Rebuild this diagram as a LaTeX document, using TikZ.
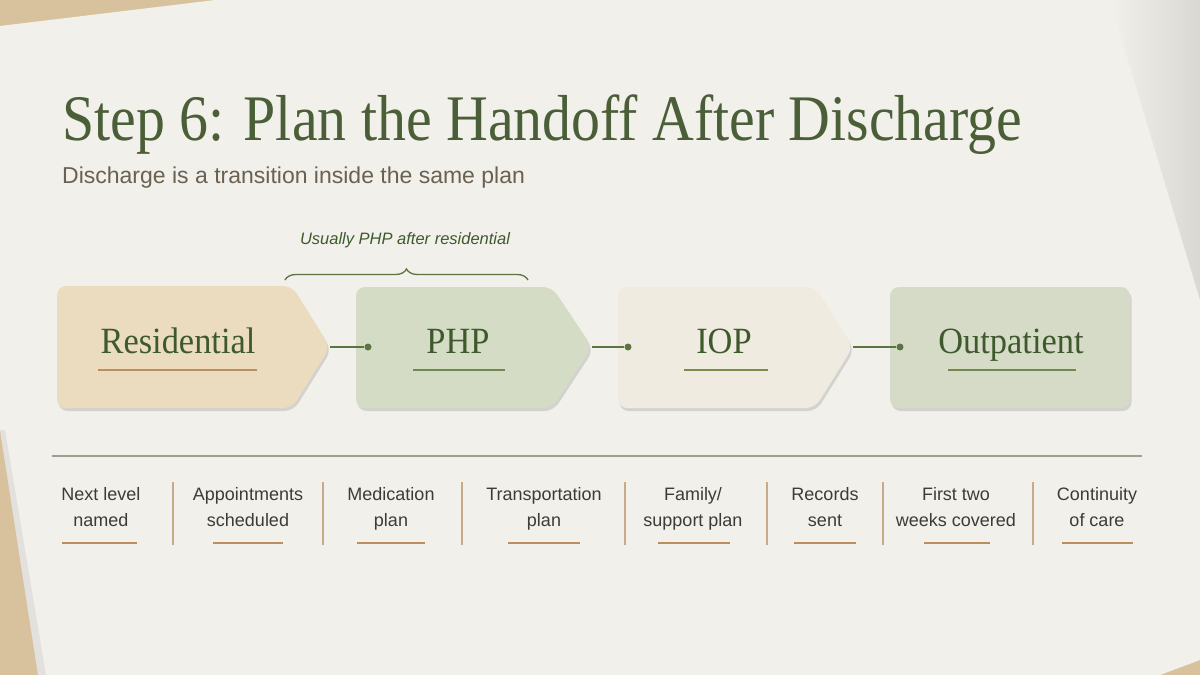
\documentclass[tikz,border=0pt]{standalone}
\usepackage{fontspec}
\setmainfont{Liberation Serif}
\setsansfont{Liberation Sans}
\usetikzlibrary{shadows,decorations.pathreplacing}
\definecolor{wood}{HTML}{D8C29E}
\definecolor{paper}{HTML}{F2F0EB}
\definecolor{titlegreen}{HTML}{4A5E38}
\definecolor{subgray}{HTML}{6A6152}
\definecolor{boxgreen}{HTML}{3E5A2C}
\definecolor{linegreen}{HTML}{5C7440}
\definecolor{resfill}{HTML}{ECDCBF}
\definecolor{phpfill}{HTML}{D5DCC6}
\definecolor{iopfill}{HTML}{F0EBE1}
\definecolor{outfill}{HTML}{D5DBC7}
\definecolor{tanline}{HTML}{BC8D5E}
\definecolor{olive}{HTML}{73884F}
\definecolor{rulegray}{HTML}{9CA08E}
\definecolor{textgray}{HTML}{3C3C34}
\definecolor{sepcol}{HTML}{C8AA88}
\begin{document}
\begin{tikzpicture}[x=1pt,y=-1pt,
  lbl/.style={font=\sffamily\fontsize{18}{26}\selectfont, text=textgray, align=center, inner sep=0pt, anchor=base},
  boxtxt/.style={font=\fontsize{37}{40}\selectfont, text=boxgreen, inner sep=0pt, anchor=base, xscale=0.93},
  sepline/.style={draw=sepcol, line width=1.1pt},
  uline/.style={line width=1.6pt},
  subul/.style={draw=tanline, line width=1.3pt},
  conn/.style={draw=linegreen, line width=1.5pt},
  dotn/.style={circle, fill=linegreen, inner sep=0pt, minimum size=7pt},
  card/.style={rounded corners=9pt, drop shadow={shadow xshift=1.5pt, shadow yshift=-3pt, opacity=0.18, fill=black!70}},
]
\useasboundingbox (0,0) rectangle (1200,675);
% background
\fill[wood] (0,0) rectangle (1200,675);
\fill[paper] (0,26) -- (215,0) -- (1200,0) -- (1200,660) -- (1160,675) -- (38,675) -- (0,430) -- cycle;
\fill[black, opacity=0.06] (0,430) -- (38,675) -- (46,675) -- (5,430) -- cycle;
\shade[left color=paper, right color=paper!90!black] (1110,0) -- (1200,0) -- (1200,300) -- cycle;

% title
\node[font=\fontsize{65}{70}\selectfont, text=titlegreen, anchor=base west, inner sep=0pt, xscale=0.89] (title) at (62,140) {Step 6: Plan the Handoff After Discharge};
\node[font=\sffamily\fontsize{23}{26}\selectfont, text=subgray, anchor=base west, inner sep=0pt] (subtitle) at (62,183) {Discharge is a transition inside the same plan};

% brace
\coordinate (brl) at (285,280);
\coordinate (brr) at (528,280);
\draw[draw=linegreen, line width=1.3pt, decorate, decoration={brace, amplitude=11pt}] (brl) -- (brr);
\node[font=\sffamily\itshape\fontsize{16.5}{20}\selectfont, text=boxgreen, anchor=base, inner sep=0pt] (bracelbl) at (405,244) {Usually PHP after residential};

% cards
\path[fill=resfill, card] (57,286) -- (292,286) -- (330,347) -- (292,408) -- (57,408) -- cycle;
\path[fill=phpfill, card] (356,287) -- (552,287) -- (592,347) -- (552,408) -- (356,408) -- cycle;
\path[fill=iopfill, card] (618,287) -- (815,287) -- (853,347) -- (815,408) -- (618,408) -- cycle;
\path[fill=outfill, card] (890,287) rectangle (1130,408);

\coordinate (restip) at (330,347);
\coordinate (phptip) at (592,347);
\coordinate (ioptip) at (853,347);
\node[dotn] (phpdot) at (368,347) {};
\node[dotn] (iopdot) at (628,347) {};
\node[dotn] (outdot) at (900,347) {};
\draw[conn] (restip) -- (phpdot);
\draw[conn] (phptip) -- (iopdot);
\draw[conn] (ioptip) -- (outdot);

\node[boxtxt] (res) at (178,353) {Residential};
\node[boxtxt] (php) at (458,353) {PHP};
\node[boxtxt] (iop) at (724,353) {IOP};
\node[boxtxt] (out) at (1011,353) {Outpatient};
\draw[uline, draw=tanline] (98,370) -- (257,370);
\draw[uline, draw=olive] (413,370) -- (505,370);
\draw[uline, draw=olive!85!tanline] (684,370) -- (768,370);
\draw[uline, draw=olive] (948,370) -- (1076,370);

% checklist
\draw[draw=rulegray, line width=1.1pt] (52,456) -- (1142,456);
\foreach \x in {173,323,462,625,767,883,1033}{
  \draw[sepline] (\x,482) -- (\x,545);
}
\node[lbl] (c1) at (101,526) {Next level\\named};
\node[lbl] (c2) at (248,526) {Appointments\\scheduled};
\node[lbl] (c3) at (391,526) {Medication\\plan};
\node[lbl] (c4) at (544,526) {Transportation\\plan};
\node[lbl] (c5) at (693,526) {Family/\\support plan};
\node[lbl] (c6) at (825,526) {Records\\sent};
\node[lbl] (c7) at (956,526) {First two\\weeks covered};
\node[lbl] (c8) at (1097,526) {Continuity\\of care};
\foreach \a/\b in {62/137,213/283,357/425,508/580,658/730,794/856,924/990,1062/1133}{
  \draw[subul] (\a,543) -- (\b,543);
}
\end{tikzpicture}
\end{document}
